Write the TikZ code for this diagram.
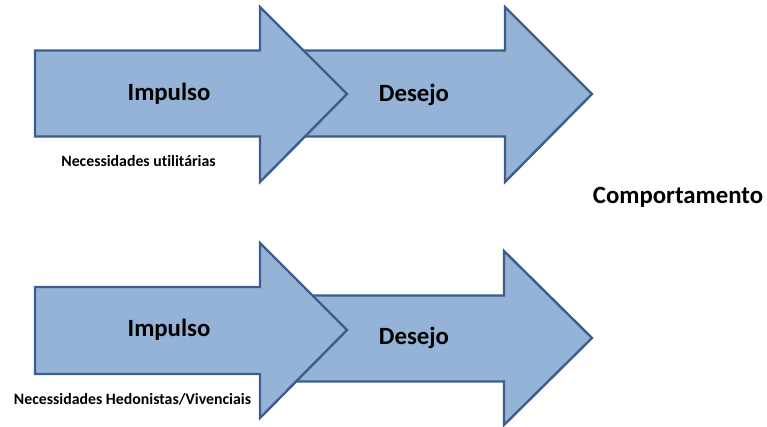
\documentclass[tikz,border=0pt]{standalone}
\usepackage{fontspec}
\setmainfont[Ligatures=CommonOff]{Carlito}
\definecolor{arrfill}{HTML}{95B3D7}
\definecolor{arrline}{HTML}{3B5E8C}
\begin{document}
\begin{tikzpicture}[x=1pt,y=-1pt,
  bigarrow/.style={fill=arrfill,draw=arrline,line width=2.4pt,line join=miter},
  bigtxt/.style={font=\bfseries\fontsize{24.8}{28}\selectfont,inner sep=0pt},
  smalltxt/.style={font=\bfseries\fontsize{15.8}{18}\selectfont,inner sep=0pt}]
\useasboundingbox (0,0) rectangle (767,427);
% top row
\draw[bigarrow] (290,50.5) -- (505,50.5) -- (505,7) -- (592,94) -- (505,182) -- (505,136.5) -- (290,136.5) -- cycle;
\draw[bigarrow] (35,50.5) -- (260,50.5) -- (260,7) -- (347,94) -- (260,182) -- (260,136.5) -- (35,136.5) -- cycle;
% bottom row
\draw[bigarrow] (290,295.5) -- (504,295.5) -- (504,251) -- (592,338) -- (504,425) -- (504,381.5) -- (290,381.5) -- cycle;
\draw[bigarrow] (35,287) -- (260,287) -- (260,243) -- (347,330) -- (260,418) -- (260,374) -- (35,374) -- cycle;
% texts
\node[bigtxt] (imp1) at (169,94) {Impulso};
\node[bigtxt] (des1) at (414,95) {Desejo};
\node[smalltxt] (nec1) at (138.5,161) {Necessidades utilitárias};
\node[bigtxt] (comp) at (678,197) {Comportamento};
\node[bigtxt] (imp2) at (169,330) {Impulso};
\node[bigtxt] (des2) at (414,338) {Desejo};
\node[smalltxt] (nec2) at (132.5,399) {Necessidades Hedonistas/Vivenciais};
\end{tikzpicture}
\end{document}
